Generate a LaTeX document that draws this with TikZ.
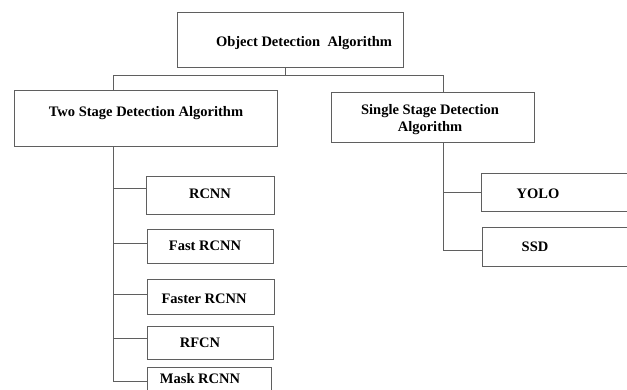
\documentclass[tikz,border=0pt]{standalone}
\usepackage{fontspec}
\setmainfont{Liberation Serif}
\begin{document}
\begin{tikzpicture}[x=1pt,y=-1pt,
  box/.style={draw=linec, line width=0.9pt, rectangle, inner sep=0pt},
  lbl/.style={font=\fontsize{14.5}{17}\selectfont\bfseries, inner sep=0pt, align=center},
  conn/.style={draw=linec, line width=0.9pt}]
\definecolor{linec}{RGB}{95,95,95}
\useasboundingbox (0,0) rectangle (627,389);
\clip (0,0) rectangle (627,389);
% boxes
\node[box, minimum width=226pt, minimum height=55pt] (top) at (290,39.5) {};
\node[box, minimum width=263pt, minimum height=56pt] (two) at (145.5,118) {};
\node[box, minimum width=203pt, minimum height=50pt] (single) at (432.5,117) {};
\node[box, minimum width=159pt, minimum height=38pt] (yolo) at (560.5,192) {};
\node[box, minimum width=158pt, minimum height=39pt] (ssd) at (561,246.5) {};
\node[box, minimum width=128pt, minimum height=38pt] (rcnn) at (210,195) {};
\node[box, minimum width=126pt, minimum height=34pt] (fast) at (210,246) {};
\node[box, minimum width=127pt, minimum height=35pt] (faster) at (210.5,296.5) {};
\node[box, minimum width=126pt, minimum height=33pt] (rfcn) at (210,342.5) {};
\node[box, minimum width=124pt, minimum height=33pt] (mask) at (209,383.5) {};
% labels
\node[lbl] (topl) at (304,43) {Object Detection\ \ Algorithm};
\node[lbl] (twol) at (146,113) {Two Stage Detection Algorithm};
\node[lbl] (singlel) at (430,120) {Single Stage Detection\\Algorithm};
\node[lbl] (yolol) at (538,194) {YOLO};
\node[lbl] (ssdl) at (535,247) {SSD};
\node[lbl] (rcnnl) at (210,194) {RCNN};
\node[lbl] (fastl) at (205,246) {Fast RCNN};
\node[lbl] (fasterl) at (204,299) {Faster RCNN};
\node[lbl] (rfcnl) at (200,343) {RFCN};
\node[lbl] (maskl) at (200,379) {Mask RCNN};
% connectors
\coordinate (j) at (285,75);
\coordinate (lt) at (113,75);
\coordinate (rt) at (443,75);
\draw[conn] (j |- top.south) -- (j);
\draw[conn] (lt |- two.north) -- (lt) -- (rt) -- (rt |- single.north);
\draw[conn] (lt |- two.south) |- ([yshift=2.5pt]mask.west);
\draw[conn] (lt |- rcnn.west) ++(0,-7) -- ([yshift=7pt]rcnn.west);
\draw[conn] (lt |- fast.west) ++(0,-3) -- ([yshift=3pt]fast.west);
\draw[conn] (lt |- faster.west) ++(0,-2.5) -- ([yshift=2.5pt]faster.west);
\draw[conn] (lt |- rfcn.west) ++(0,-4.5) -- ([yshift=4.5pt]rfcn.west);
\draw[conn] (rt |- single.south) |- ([yshift=-3.5pt]ssd.west);
\draw[conn] (rt |- yolo.west) -- (yolo.west);
\end{tikzpicture}
\end{document}
